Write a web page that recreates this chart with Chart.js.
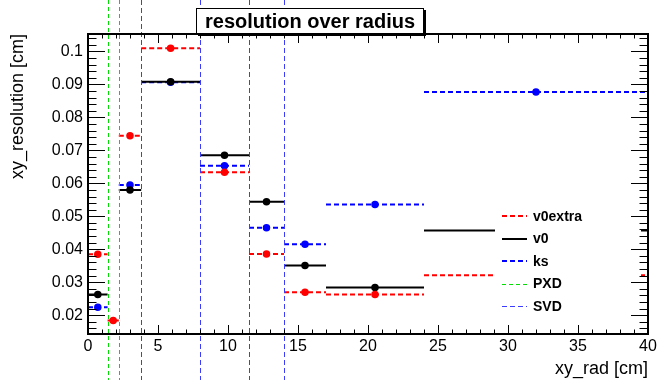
<!DOCTYPE html>
<html>
<head>
<meta charset="utf-8">
<script src="https://cdn.jsdelivr.net/npm/chart.js@4"></script>
<style>
  html, body { margin: 0; padding: 0; background: #fff; }
  #wrap { width: 660px; height: 380px; }
</style>
</head>
<body>
<div id="wrap"><canvas id="resChart" width="660" height="380"></canvas></div>
<script>
// radial bins [cm] and resolution per bin
const binEdges = [0, 1.4, 2.2, 3.8, 8, 11.5, 14, 17, 24, 40];
const v0extraRes = [0.0385, 0.0184, 0.0744, 0.1010, 0.0634, 0.0386, 0.0270, 0.0263, 0.0321];
const v0Res = [0.0263, null, 0.0580, 0.0908, 0.0685, 0.0544, 0.0351, 0.0284, 0.0457];
const ksRes = [0.0224, null, 0.0595, 0.0907, 0.0653, 0.0465, 0.0415, 0.0536, 0.0877];

// detector layer radii [cm]
const pxdLayers = [1.4, 2.2];
const svdLayers = [3.8, 8.0, 11.5, 14.0];

const xTicks = [0, 5, 10, 15, 20, 25, 30, 35, 40];
const yTicks = [0.02, 0.03, 0.04, 0.05, 0.06, 0.07, 0.08, 0.09, 0.1];

const FONT = "'Liberation Sans', Arial, Helvetica, sans-serif";

// horizontal bin-width bars with a marker at the bin centre
function binPoints(values) {
  const pts = [];
  values.forEach((v, i) => {
    if (v === null) return;
    const lo = binEdges[i], hi = binEdges[i + 1];
    pts.push({ x: lo, y: v });
    pts.push({ x: (lo + hi) / 2, y: v, m: true });
    pts.push({ x: hi, y: v });
    pts.push({ x: hi, y: null });
  });
  return pts;
}

function series(label, values, color, dash) {
  return {
    label: label,
    data: binPoints(values),
    borderColor: color,
    backgroundColor: color,
    borderWidth: 2,
    borderDash: dash,
    pointRadius: (c) => (c.raw && c.raw.m ? 3.75 : 0),
    pointHoverRadius: (c) => (c.raw && c.raw.m ? 3.75 : 0),
    pointBorderWidth: 0,
    pointBackgroundColor: color,
    spanGaps: false,
    tension: 0,
  };
}

const rootStyle = {
  id: "rootStyle",
  afterDraw(chart, args, opts) {
    const { ctx, chartArea: a, scales } = chart;
    const x = scales.x, y = scales.y;
    const H = chart.height;
    ctx.save();

    // detector layers across the whole pad
    opts.layers.forEach((layer) => {
      ctx.strokeStyle = layer.color;
      ctx.lineWidth = 1;
      ctx.setLineDash(layer.dash);
      layer.values.forEach((r) => {
        const px = Math.round(x.getPixelForValue(r)) + 0.5;
        ctx.beginPath();
        ctx.moveTo(px, 0);
        ctx.lineTo(px, H);
        ctx.stroke();
      });
    });
    ctx.setLineDash([]);

    // legend
    const lg = opts.legend;
    ctx.fillStyle = "#fff";
    ctx.fillRect(lg.x, lg.y, lg.w, lg.h);
    const entries = chart.data.datasets.map((d) => ({
      label: d.label, color: d.borderColor, width: d.borderWidth, dash: d.borderDash,
    })).concat(opts.layers.map((l) => ({ label: l.label, color: l.color, width: 1, dash: l.dash })));
    ctx.font = "bold 14px " + FONT;
    ctx.textBaseline = "middle";
    ctx.textAlign = "left";
    entries.forEach((e, i) => {
      const ly = lg.firstY + i * lg.step;
      const off = e.width === 1 ? 0.5 : 0;
      ctx.strokeStyle = e.color;
      ctx.lineWidth = e.width;
      ctx.setLineDash(e.dash);
      ctx.beginPath();
      ctx.moveTo(lg.lineX0, Math.round(ly) + off);
      ctx.lineTo(lg.lineX1, Math.round(ly) + off);
      ctx.stroke();
      ctx.setLineDash([]);
      ctx.fillStyle = "#000";
      ctx.fillText(e.label, lg.textX, ly + 1);
    });

    // ticks on all four sides
    ctx.strokeStyle = "#000";
    ctx.lineWidth = 1;
    const L = Math.round(a.left), R = Math.round(a.right);
    const T = Math.round(a.top), B = Math.round(a.bottom);
    ctx.beginPath();
    const yMajor = 17, yMinor = 8.5, xMajor = 9, xMinor = 4.5;
    for (let v = Math.ceil(y.min / 0.002) * 0.002; v <= y.max + 1e-9; v += 0.002) {
      const major = yTicks.some((t) => Math.abs(t - v) < 1e-6);
      const len = major ? yMajor : yMinor;
      const py = Math.round(y.getPixelForValue(v)) + 0.5;
      ctx.moveTo(L, py); ctx.lineTo(L + len, py);
      ctx.moveTo(R, py); ctx.lineTo(R - len, py);
    }
    for (let v = x.min; v <= x.max + 1e-9; v += 1) {
      const major = xTicks.includes(v);
      const len = major ? xMajor : xMinor;
      const px = Math.round(x.getPixelForValue(v)) + 0.5;
      ctx.moveTo(px, B); ctx.lineTo(px, B - len);
      ctx.moveTo(px, T); ctx.lineTo(px, T + len);
    }
    ctx.stroke();
    // frame
    ctx.lineWidth = 2;
    ctx.strokeRect(L, T, R - L, B - T);

    // axis titles
    ctx.fillStyle = "#000";
    ctx.font = "18px " + FONT;
    ctx.textAlign = "right";
    ctx.textBaseline = "middle";
    ctx.fillText(opts.xTitle, a.right, 369);
    ctx.save();
    ctx.translate(18, a.top);
    ctx.rotate(-Math.PI / 2);
    ctx.fillText(opts.yTitle, 0, 0);
    ctx.restore();

    // title box with shadow
    const tb = opts.titleBox;
    ctx.lineWidth = 1;
    ctx.fillStyle = "#000";
    ctx.fillRect(tb.x + 2, tb.y + 2, tb.w, tb.h);
    ctx.fillStyle = "#fff";
    ctx.fillRect(tb.x, tb.y, tb.w, tb.h);
    ctx.strokeRect(tb.x + 0.5, tb.y + 0.5, tb.w - 1, tb.h - 1);
    ctx.fillStyle = "#000";
    ctx.font = "bold 20px " + FONT;
    ctx.textAlign = "center";
    ctx.fillText(opts.title, tb.x + tb.w / 2, tb.y + tb.h / 2 + 1);

    ctx.restore();
  },
};

new Chart(document.getElementById("resChart"), {
  type: "line",
  data: {
    datasets: [
      series("v0extra", v0extraRes, "#ff0000", [5, 3]),
      series("v0", v0Res, "#000000", []),
      series("ks", ksRes, "#0000ff", [5, 3]),
    ],
  },
  options: {
    responsive: false,
    animation: false,
    events: [],
    layout: { padding: { left: 0, top: 34, right: 12, bottom: 0 } },
    scales: {
      x: {
        type: "linear",
        min: 0,
        max: 40,
        afterBuildTicks: (s) => { s.ticks = xTicks.map((v) => ({ value: v })); },
        afterFit: (s) => { s.height = 46; },
        ticks: { color: "#000", font: { family: FONT, size: 16 }, padding: 3, maxRotation: 0 },
        grid: { display: false, drawTicks: false },
        border: { display: false },
      },
      y: {
        type: "linear",
        min: 0.0143,
        max: 0.1053,
        afterBuildTicks: (s) => { s.ticks = yTicks.map((v) => ({ value: v })); },
        afterFit: (s) => { s.width = 88; },
        ticks: { color: "#000", font: { family: FONT, size: 16 }, padding: 5, callback: (v) => String(v) },
        grid: { display: false, drawTicks: false },
        border: { display: false },
      },
    },
    plugins: {
      legend: { display: false },
      tooltip: { enabled: false },
      rootStyle: {
        title: "resolution over radius",
        xTitle: "xy_rad [cm]",
        yTitle: "xy_resolution [cm]",
        titleBox: { x: 196, y: 8, w: 228, h: 26 },
        legend: { x: 495, y: 196, w: 146, h: 122, firstY: 216, step: 22.5, lineX0: 502, lineX1: 527, textX: 533 },
        layers: [
          { label: "PXD", values: pxdLayers, color: "#00dd00", dash: [4, 3] },
          { label: "SVD", values: svdLayers, color: "#3c3cff", dash: [5, 3] },
        ],
      },
    },
  },
  plugins: [rootStyle],
});
</script>
</body>
</html>
